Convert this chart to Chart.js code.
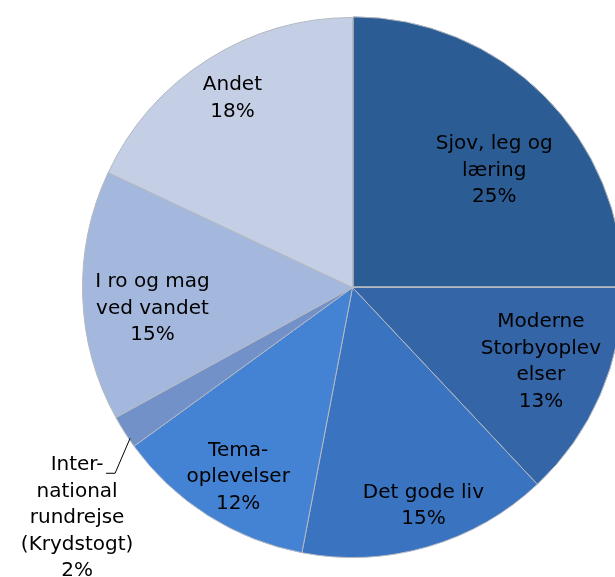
<!DOCTYPE html>
<html>
<head>
<meta charset="utf-8">
<script src="https://cdn.jsdelivr.net/npm/chart.js@4"></script>
<style>
  html, body { margin: 0; padding: 0; background: #fff; overflow: hidden; }
  #wrap { width: 630px; height: 577px; }
</style>
</head>
<body>
<div id="wrap"><canvas id="pieChart"></canvas></div>
<script>
// data (clockwise from 12 o'clock)
var labels = [
  ['Sjov, leg og', 'læring'],
  ['Moderne', 'Storbyoplev', 'elser'],
  ['Det gode liv'],
  ['Tema-', 'oplevelser'],
  ['Inter-', 'national', 'rundrejse', '(Krydstogt)'],
  ['I ro og mag', 'ved vandet'],
  ['Andet']
];
var shares = [25, 13, 15, 12, 2, 15, 18];

var colors = ['#2c5c94', '#3465a7', '#3a74c0', '#4483d3', '#7191c8', '#a4b8dd', '#c4cfe5'];
// where each label sits: fraction of the radius and a small turn (degrees) off the middle
// null = outside the pie with a leader line
var labelRadius = [0.68, 0.75, 0.85, 0.82, null, 0.745, 0.83];
var labelTurn = [5.5, -1.9, -1.8, -1.3, 0, -4.2, 0];

const ctx = document.getElementById('pieChart');

const pieLabels = {
  id: 'pieLabels',
  afterDatasetsDraw(chart) {
    var c = chart.ctx;
    var arcs = chart.getDatasetMeta(0).data;
    c.save();
    c.font = '20px "DejaVu Sans", Verdana, sans-serif';
    c.fillStyle = '#000';
    c.textAlign = 'center';
    c.textBaseline = 'middle';
    var lh = 26.5;
    arcs.forEach(function (arc, i) {
      var p = arc.getProps(['x', 'y', 'startAngle', 'endAngle', 'outerRadius'], true);
      var mid = (p.startAngle + p.endAngle) / 2 + labelTurn[i] * Math.PI / 180;
      var lines = labels[i].concat([shares[i] + '%']);
      var x, y;
      if (labelRadius[i] !== null) {
        x = p.x + Math.cos(mid) * p.outerRadius * labelRadius[i];
        y = p.y + Math.sin(mid) * p.outerRadius * labelRadius[i];
      } else {
        // outside label with a small leader line
        var ex = p.x + Math.cos(mid) * p.outerRadius * 0.98;
        var ey = p.y + Math.sin(mid) * p.outerRadius * 0.98;
        x = ex - 52;
        y = ey + 89;
        c.strokeStyle = '#000';
        c.lineWidth = 1;
        c.beginPath();
        c.moveTo(ex + 1, ey + 9);
        c.lineTo(ex - 14, ey + 44);
        c.lineTo(ex - 23, ey + 44);
        c.stroke();
      }
      var top = y - (lines.length - 1) * lh / 2;
      lines.forEach(function (t, k) {
        c.fillText(t, x, top + k * lh);
      });
    });
    c.restore();
  }
};

new Chart(ctx, {
  type: 'pie',
  data: {
    labels: labels.map(function (l) { return l.join(' '); }),
    datasets: [{
      data: shares,
      backgroundColor: colors,
      borderColor: '#b4b8c0',
      borderWidth: 1,
      offset: [4, 0, 0, 0, 0, 0, 0]
    }]
  },
  options: {
    responsive: true,
    maintainAspectRatio: false,
    animation: false,
    layout: { padding: { left: 80, right: 5, top: 15, bottom: 17 } },
    plugins: {
      legend: { display: false },
      tooltip: { enabled: false }
    }
  },
  plugins: [pieLabels]
});
</script>
</body>
</html>
